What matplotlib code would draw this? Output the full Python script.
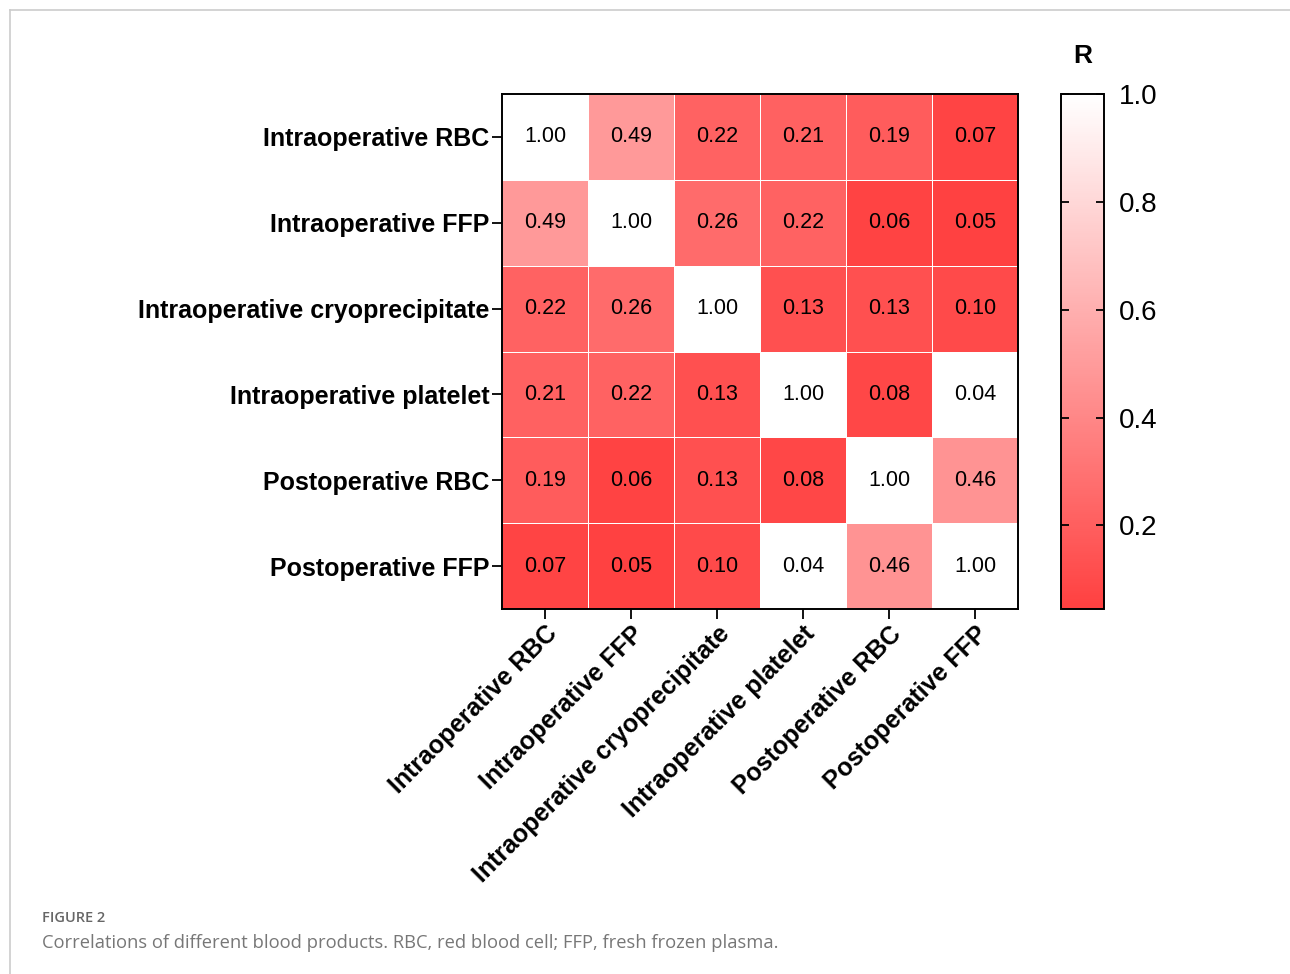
import numpy as np
import matplotlib
matplotlib.use("Agg")
import matplotlib.pyplot as plt
from matplotlib.colors import LinearSegmentedColormap
from matplotlib.lines import Line2D

plt.rcParams['font.family'] = ['Liberation Sans', 'DejaVu Sans']

labels = ["Intraoperative RBC", "Intraoperative FFP", "Intraoperative cryoprecipitate",
          "Intraoperative platelet", "Postoperative RBC", "Postoperative FFP"]

r = np.array([
    [1.00, 0.49, 0.22, 0.21, 0.19, 0.07],
    [0.49, 1.00, 0.26, 0.22, 0.06, 0.05],
    [0.22, 0.26, 1.00, 0.13, 0.13, 0.10],
    [0.21, 0.22, 0.13, 1.00, 0.08, 0.04],
    [0.19, 0.06, 0.13, 0.08, 1.00, 0.46],
    [0.07, 0.05, 0.10, 0.04, 0.46, 1.00],
])

cmap = LinearSegmentedColormap.from_list("rw", ["#ff4040", "#ffffff"])
cmap.set_under("white")

fig = plt.figure(figsize=(12.9, 9.74), dpi=100)

# thin gray frame lines (page border)
fig.add_artist(Line2D([10/1290, 10/1290], [0, 1 - 10/974], color="#cccccc", lw=1.2))
fig.add_artist(Line2D([10/1290, 1], [1 - 10/974, 1 - 10/974], color="#cccccc", lw=1.2))

ax = fig.add_axes([502/1290, 1 - 609/974, 516/1290, 515/974])
im = ax.pcolormesh(r, cmap=cmap, vmin=0.045, vmax=1.0, edgecolors="white", linewidth=0.4)
ax.set_xlim(0, 6)
ax.set_ylim(6, 0)
for i in range(6):
    for j in range(6):
        ax.text(j + 0.5, i + 0.5, f"{r[i, j]:.2f}", ha="center", va="center",
                fontsize=15.5, color="black")

ax.set_xticks(np.arange(6) + 0.5)
ax.set_yticks(np.arange(6) + 0.5)
ax.set_xticklabels(labels, rotation=45, ha="right", rotation_mode="anchor",
                   fontsize=18, fontweight="bold")
ax.set_yticklabels(labels, fontsize=18, fontweight="bold")
ax.tick_params(length=7, width=1.3, pad=2)
for s in ax.spines.values():
    s.set_linewidth(1.4)

cax = fig.add_axes([1061/1290, 1 - 609/974, 43/1290, 515/974])
cb = fig.colorbar(im, cax=cax)
cb.set_ticks([0.2, 0.4, 0.6, 0.8, 1.0])
cb.ax.tick_params(labelsize=20, length=6, width=1.3, direction="in",
                  left=True, right=True, pad=11)
cb.outline.set_linewidth(1.4)
cax.set_title("R", fontsize=19, fontweight="bold", pad=22)

fig.text(42/1290, 1 - 918/974, "FIGURE 2", fontsize=10.5, color="#666666",
         family="Open Sans", fontweight="semibold", va="center")
fig.text(42/1290, 1 - 943/974,
         "Correlations of different blood products. RBC, red blood cell; FFP, fresh frozen plasma.",
         fontsize=13.2, color="#777777", family="Open Sans", va="center")

fig.savefig("out.png", dpi=100)
